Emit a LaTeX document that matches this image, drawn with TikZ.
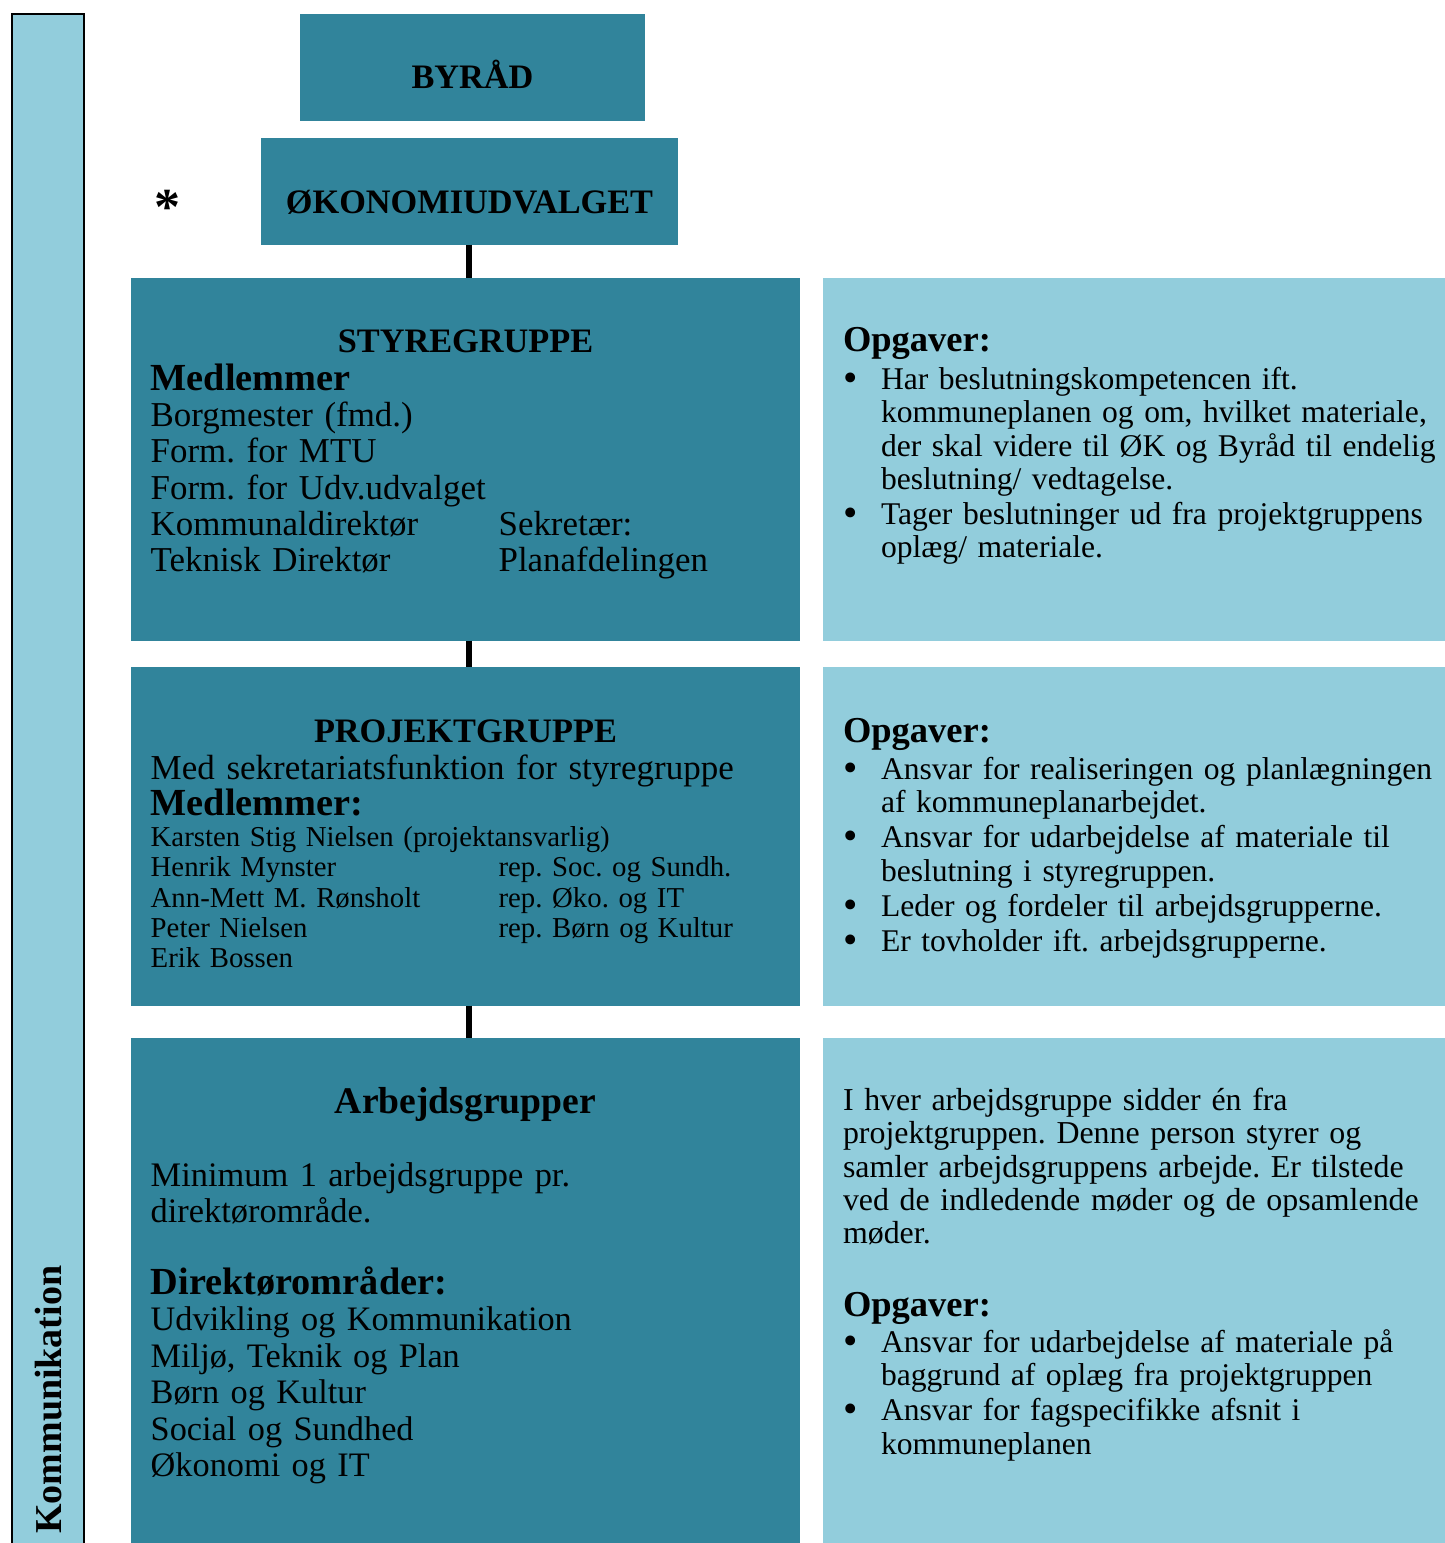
\documentclass[tikz,border=0pt]{standalone}
\usepackage{fontspec}
\setmainfont{Liberation Serif}
\definecolor{tealdark}{HTML}{31849B}
\definecolor{teallight}{HTML}{92CDDC}
\newcommand{\fs}[2]{\fontsize{#1}{#2}\selectfont}
\newcommand{\bul}{\makebox[38pt][l]{\raisebox{-2.2pt}{\scalebox{1.3}{\textbullet}}}}
\newcommand{\ind}{\hspace*{38pt}}
\newcommand{\colA}[1]{\makebox[347.9pt][l]{#1}}
\frenchspacing
\begin{document}
\frenchspacing
\begin{tikzpicture}[x=1pt,y=-1pt,
  dbox/.style={rectangle, fill=tealdark, draw=none, inner sep=0pt, outer sep=0pt, anchor=north west},
  lbox/.style={rectangle, fill=teallight, draw=none, inner sep=0pt, outer sep=0pt, anchor=north west},
  hd/.style={inner sep=0pt, outer sep=0pt, anchor=base, font=\bfseries\fs{34.3}{36}},
  txt/.style={inner sep=0pt, outer sep=0pt, anchor=base west, align=left, text width=640pt},
  conn/.style={draw=black, line width=6pt}]
\useasboundingbox (0,0) rectangle (1445,1543);
\fill[white] (0,0) rectangle (1445,1543);

% left bar
\node[rectangle, fill=teallight, draw=black, line width=2pt, inner sep=0pt, anchor=north west,
      minimum width=72.6pt, minimum height=1545pt] (bar) at (10.7,13.3) {};
\node[rotate=90, anchor=base west, inner sep=0pt, font=\bfseries\fs{38}{40}] (komm) at (61.7,1534) {Kommunikation};

% top boxes
\node[dbox, minimum width=345pt, minimum height=106.7pt] (byrad) at (300,14) {};
\node[hd] (byradt) at (472.5,88.3) {BYRÅD};
\node[dbox, minimum width=417pt, minimum height=106.7pt] (eko) at (261,138) {};
\node[hd] (ekot) at (469.5,213.3) {ØKONOMIUDVALGET};
\node[anchor=base, inner sep=0pt, font=\bfseries\fs{52}{52}] (ast) at (167.7,224) {*};

% main boxes
\node[dbox, minimum width=669pt, minimum height=362.7pt] (styre) at (131,278) {};
\node[lbox, minimum width=622pt, minimum height=362.7pt] (opg1) at (823,278) {};
\node[dbox, minimum width=669pt, minimum height=339pt] (proj) at (131,666.7) {};
\node[lbox, minimum width=622pt, minimum height=339pt] (opg2) at (823,666.7) {};
\node[dbox, minimum width=669pt, minimum height=520pt] (arb) at (131,1038.3) {};
\node[lbox, minimum width=622pt, minimum height=520pt] (opg3) at (823,1038.3) {};

% connectors
\draw[conn] (eko.south -| 469,0) -- (styre.north -| 469,0);
\draw[conn] (styre.south -| 469,0) -- (proj.north -| 469,0);
\draw[conn] (proj.south -| 469,0) -- (arb.north -| 469,0);

% Styregruppe
\node[hd] (styreh) at (465.5,352.7) {STYREGRUPPE};
\node[txt, font=\fs{34.9}{36.35}] (styreb) at (150.7,390) {%
{\bfseries\fs{38.3}{36.35}Medlemmer}\\
Borgmester (fmd.)\\
Form. for MTU\\
Form. for Udv.udvalget\\
\colA{Kommunaldirektør}Sekretær:\\
\colA{Teknisk Direktør}Planafdelingen};

% Projektgruppe
\node[hd] (projh) at (465.5,742.7) {PROJEKTGRUPPE};
\node[txt, font=\fs{35}{36.3}] (projb) at (150.7,779) {%
Med sekretariatsfunktion for styregruppe\\
{\bfseries\fs{38.3}{36.3}Medlemmer:}};
\node[txt, font=\fs{28.8}{30.25}] (projm) at (150.7,846.7) {%
Karsten Stig Nielsen (projektansvarlig)\\
\colA{Henrik Mynster}rep. Soc. og Sundh.\\
\colA{Ann-Mett M. Rønsholt}rep. Øko. og IT\\
\colA{Peter Nielsen}rep. Børn og Kultur\\
Erik Bossen};

% Arbejdsgrupper
\node[anchor=base, inner sep=0pt, font=\bfseries\fs{37.6}{40}] (arbh) at (465.5,1113.3) {Arbejdsgrupper};
\node[txt, font=\fs{34.4}{36.7}] (arbb) at (150.7,1186) {%
Minimum 1 arbejdsgruppe pr.\\
direktørområde.};
\node[txt, font=\fs{34.3}{36.5}] (arbd) at (150.7,1294) {%
{\bfseries\fs{38.3}{36.5}Direktørområder:}\\
Udvikling og Kommunikation\\
Miljø, Teknik og Plan\\
Børn og Kultur\\
Social og Sundhed\\
Økonomi og IT};

% right boxes
\node[txt, font=\fs{31.6}{33.4}] (opg1t) at (843,351.7) {%
{\bfseries\fs{36.5}{33.4}Opgaver:}\\[4.2pt]
\bul Har beslutningskompetencen ift.\\
\ind kommuneplanen og om, hvilket materiale,\\
\ind der skal videre til ØK og Byråd til endelig\\
\ind beslutning/ vedtagelse.\\[1.6pt]
\bul Tager beslutninger ud fra projektgruppens\\
\ind oplæg/ materiale.};

\node[txt, font=\fs{31.6}{33.4}] (opg2t) at (843,742.7) {%
{\bfseries\fs{36.5}{33.4}Opgaver:}\\[3.2pt]
\bul Ansvar for realiseringen og planlægningen\\
\ind af kommuneplanarbejdet.\\[1.6pt]
\bul Ansvar for udarbejdelse af materiale til\\
\ind beslutning i styregruppen.\\[1.6pt]
\bul Leder og fordeler til arbejdsgrupperne.\\[1.6pt]
\bul Er tovholder ift. arbejdsgrupperne.};

\node[txt, font=\fs{31.9}{33.2}] (opg3p) at (843,1110.7) {%
I hver arbejdsgruppe sidder én fra\\
projektgruppen. Denne person styrer og\\
samler arbejdsgruppens arbejde. Er tilstede\\
ved de indledende møder og de opsamlende\\
møder.};
\node[txt, font=\fs{31.6}{33.4}] (opg3t) at (843,1316) {%
{\bfseries\fs{36.5}{33.4}Opgaver:}\\[2.9pt]
\bul Ansvar for udarbejdelse af materiale på\\
\ind baggrund af oplæg fra projektgruppen\\[1.6pt]
\bul Ansvar for fagspecifikke afsnit i\\
\ind kommuneplanen};
\end{tikzpicture}
\end{document}
